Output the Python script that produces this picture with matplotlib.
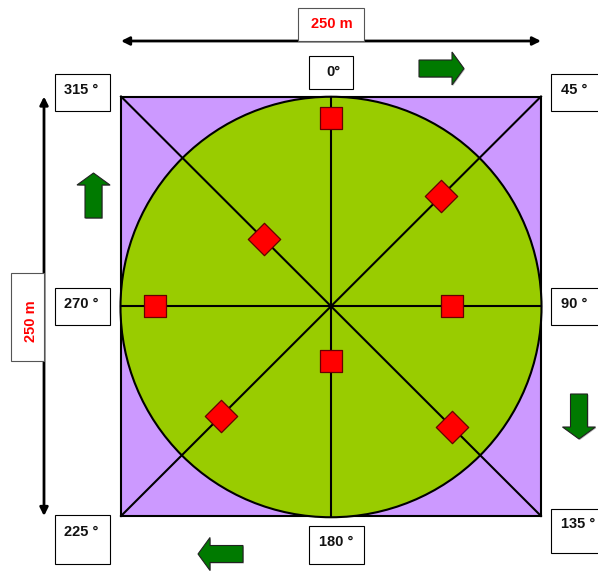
"""Plot layout sketch: circle in a 250 m square with eight sampling directions."""
import numpy as np
import matplotlib
matplotlib.use("Agg")
import matplotlib.pyplot as plt
from matplotlib.patches import Ellipse, Polygon, Rectangle

plt.rcParams["font.family"] = ["Liberation Sans", "DejaVu Sans"]

# sampling points: bearing (deg) and distance from the plot centre (m)
ANGLES = [0, 45, 90, 135, 180, 225, 270, 315]
DISTANCES = [112, 93, 72, 102, 33, 93, 105, 56]
MARKERS = ["s", "D", "s", "D", "s", "D", "s", "D"]

ANGLE_LABELS = ["0°", "45 °", "90 °", "135 °", "180 °", "225 °", "270 °", "315 °"]
SIDE_LABEL = "250 m"
SIDE_M = 250

# everything below is laid out in image pixels
W, H = 598, 571
CX, CY = 331, 306
LEFT, RIGHT, TOP, BOTTOM = 121, 541, 96.5, 516
PX_PER_M = (RIGHT - LEFT) / SIDE_M

# x0, y0, x1, y1, text x, text y
LABEL_BOXES = [
    (309, 56, 353, 89, 333, 71.5),
    (551, 74, 610, 111, 574, 90.5),
    (551, 288, 610, 325, 574, 303.5),
    (551, 509, 610, 553, 578, 524.5),
    (309, 526, 364, 564, 336, 542.5),
    (55, 515, 110, 564, 81, 531.5),
    (55, 288, 110, 325, 81, 303.5),
    (55, 74, 110, 111, 81, 90.5),
]

fig = plt.figure(figsize=(W / 100, H / 100), dpi=100)
ax = fig.add_axes([0, 0, 1, 1])
ax.set_xlim(0, W)
ax.set_ylim(H, 0)
ax.axis("off")

ax.add_patch(Rectangle((LEFT, TOP), RIGHT - LEFT, BOTTOM - TOP, fc="#CC99FF",
                       ec="black", lw=1.5, zorder=1))
ax.add_patch(Ellipse((CX, CY + 1), RIGHT - LEFT + 1, BOTTOM - TOP + 1, fc="#99CC00",
                     ec="black", lw=1.5, zorder=2))

# spokes
ax.plot([CX, CX], [TOP, BOTTOM], color="black", lw=1.5, zorder=3)
ax.plot([LEFT, RIGHT], [CY, CY], color="black", lw=1.5, zorder=3)
ax.plot([LEFT, RIGHT], [TOP, BOTTOM], color="black", lw=1.5, zorder=3)
ax.plot([LEFT, RIGHT], [BOTTOM, TOP], color="black", lw=1.5, zorder=3)

# sampling points
for ang, dist, mk in zip(ANGLES, DISTANCES, MARKERS):
    rad = np.deg2rad(ang)
    x = CX + dist * PX_PER_M * np.sin(rad)
    y = CY - dist * PX_PER_M * np.cos(rad)
    ax.scatter([x], [y], marker=mk, s=272, c="#FF0000", edgecolors="#660000",
               linewidths=0.9, zorder=4)


def label_box(x0, y0, x1, y1, edge="black"):
    ax.add_patch(Rectangle((x0, y0), x1 - x0, y1 - y0, fc="white", ec=edge,
                           lw=0.8, zorder=6))


# dimension arrows, the side boxes sit on top of them
ax.annotate("", xy=(LEFT, 41), xytext=(RIGHT, 41), zorder=5,
            arrowprops=dict(arrowstyle="<|-|>", color="black", lw=2,
                            mutation_scale=12, shrinkA=0, shrinkB=0))
ax.annotate("", xy=(44, TOP), xytext=(44, BOTTOM), zorder=5,
            arrowprops=dict(arrowstyle="<|-|>", color="black", lw=2,
                            mutation_scale=12, shrinkA=0, shrinkB=0))

label_box(298, 8, 364, 41, edge="#555555")
ax.text(332, 23.5, SIDE_LABEL, color="#FF0000", fontsize=10.5, fontweight="bold",
        ha="center", va="center", zorder=7)
label_box(11, 273, 44, 361, edge="#555555")
ax.text(31, 321, SIDE_LABEL, color="#FF0000", fontsize=10.5, fontweight="bold",
        rotation=90, ha="center", va="center", zorder=7)

for text, (x0, y0, x1, y1, tx, ty) in zip(ANGLE_LABELS, LABEL_BOXES):
    label_box(x0, y0, x1, y1)
    ax.text(tx, ty, text, fontsize=10.5, fontweight="bold", color="#111111",
            ha="center", va="center", zorder=7)


def block_arrow(tip_x, tip_y, direction):
    # pointing right by default, length 45, head 12 long and 33 wide, shaft 17 wide
    pts = np.array([(-45, -8.5), (-12, -8.5), (-12, -16.5), (0, 0),
                    (-12, 16.5), (-12, 8.5), (-45, 8.5)], dtype=float)
    rad = np.deg2rad(direction)
    rot = np.array([[np.cos(rad), -np.sin(rad)], [np.sin(rad), np.cos(rad)]])
    pts = pts @ rot.T + (tip_x, tip_y)
    ax.add_patch(Polygon(pts + 1, closed=True, fc="#BBBBBB", ec="none", zorder=4))
    ax.add_patch(Polygon(pts, closed=True, fc="#007A00", ec="#222222", lw=0.8, zorder=5))


block_arrow(464, 68.5, 0)
block_arrow(579, 439, 90)
block_arrow(198, 554, 180)
block_arrow(93.5, 173, 270)

fig.savefig("out.png", dpi=100)
